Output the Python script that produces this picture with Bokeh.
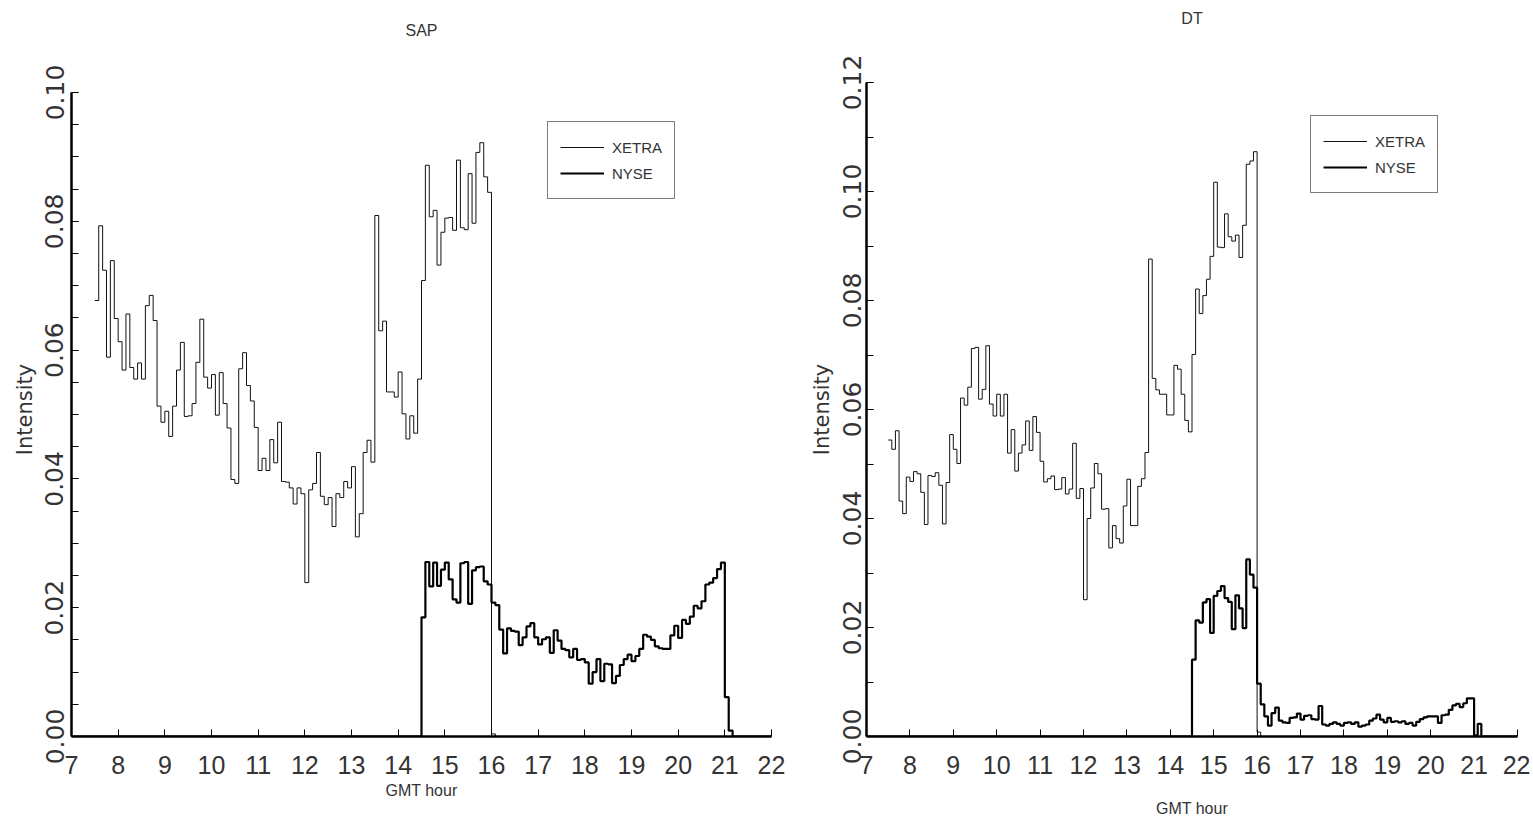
from bokeh.plotting import figure
from bokeh.models import Range1d, FixedTicker, PrintfTickFormatter, Legend, LegendItem, LinearAxis
from bokeh.layouts import row
from bokeh.embed import file_html
from bokeh.resources import INLINE

# ------------------------------------------------------------------ data
HOUR_TICKS = list(range(7, 23))
X_START, X_END = 7, 22
BIN = 1 / 12            # 5-minute bins, in hours
XETRA_OPEN = 7.5        # GMT
NYSE_OPEN = 14.5        # GMT

sap_xetra = [
    0.0677, 0.0793, 0.0724, 0.0589, 0.0739, 0.0649, 0.0613, 0.0569, 0.0656, 0.0573,
    0.0555, 0.0580, 0.0555, 0.0669, 0.0685, 0.0646, 0.0513, 0.0488, 0.0505, 0.0466,
    0.0513, 0.0569, 0.0612, 0.0497, 0.0498, 0.0517, 0.0581, 0.0648, 0.0558, 0.0541,
    0.0562, 0.0499, 0.0565, 0.0517, 0.0479, 0.0399, 0.0393, 0.0571, 0.0596, 0.0545,
    0.0521, 0.0480, 0.0413, 0.0432, 0.0413, 0.0461, 0.0425, 0.0488, 0.0396, 0.0395,
    0.0386, 0.0361, 0.0386, 0.0377, 0.0239, 0.0383, 0.0393, 0.0441, 0.0373, 0.0360,
    0.0371, 0.0326, 0.0377, 0.0371, 0.0396, 0.0386, 0.0419, 0.0310, 0.0346, 0.0441,
    0.0460, 0.0426, 0.0809, 0.0630, 0.0645, 0.0535, 0.0535, 0.0527, 0.0566, 0.0501,
    0.0462, 0.0498, 0.0471, 0.0555, 0.0708, 0.0887, 0.0807, 0.0817, 0.0732, 0.0783,
    0.0805, 0.0806, 0.0786, 0.0895, 0.0790, 0.0787, 0.0874, 0.0797, 0.0907, 0.0922,
    0.0869, 0.0845,
]
sap_xetra_after = [0.0004]

sap_nyse = [
    0.0185, 0.0271, 0.0233, 0.0270, 0.0234, 0.0259, 0.0270, 0.0244, 0.0213, 0.0208,
    0.0269, 0.0271, 0.0206, 0.0258, 0.0263, 0.0264, 0.0241, 0.0236,
    0.0208, 0.0204, 0.0166, 0.0129, 0.0168, 0.0164, 0.0163, 0.0142, 0.0154, 0.0171,
    0.0176, 0.0154, 0.0143, 0.0151, 0.0154, 0.0130, 0.0165, 0.0149, 0.0136, 0.0134,
    0.0123, 0.0136, 0.0119, 0.0120, 0.0115, 0.0082, 0.0100, 0.0120, 0.0086, 0.0113,
    0.0112, 0.0083, 0.0094, 0.0111, 0.0120, 0.0127, 0.0117, 0.0125, 0.0136, 0.0158,
    0.0155, 0.0150, 0.0140, 0.0137, 0.0136, 0.0136, 0.0157, 0.0172, 0.0153, 0.0181,
    0.0175, 0.0186, 0.0203, 0.0199, 0.0210, 0.0236, 0.0239, 0.0246, 0.0260, 0.0270,
]
sap_nyse_after = [0.0061, 0.0009]

dt_xetra = [
    0.0544, 0.0527, 0.0561, 0.0432, 0.0409, 0.0476, 0.0468, 0.0486, 0.0482, 0.0448,
    0.0389, 0.0479, 0.0477, 0.0484, 0.0461, 0.0390, 0.0466, 0.0554, 0.0527, 0.0501,
    0.0621, 0.0608, 0.0641, 0.0712, 0.0714, 0.0619, 0.0637, 0.0717, 0.0610, 0.0588,
    0.0628, 0.0588, 0.0628, 0.0520, 0.0563, 0.0487, 0.0520, 0.0535, 0.0579, 0.0525,
    0.0587, 0.0558, 0.0505, 0.0467, 0.0473, 0.0478, 0.0453, 0.0454, 0.0475, 0.0445,
    0.0454, 0.0538, 0.0437, 0.0455, 0.0251, 0.0400, 0.0456, 0.0501, 0.0482, 0.0417,
    0.0418, 0.0346, 0.0387, 0.0363, 0.0355, 0.0423, 0.0472, 0.0387, 0.0387, 0.0459,
    0.0473, 0.0521, 0.0876, 0.0657, 0.0636, 0.0628, 0.0628, 0.0590, 0.0590, 0.0681,
    0.0674, 0.0628, 0.0580, 0.0559, 0.0701, 0.0821, 0.0776, 0.0809, 0.0839, 0.0881,
    0.1017, 0.0898, 0.0897, 0.0959, 0.0917, 0.0909, 0.0920, 0.0879, 0.0938, 0.1050,
    0.1056, 0.1073,
]
dt_xetra_after = [0.0008]

dt_nyse = [
    0.0141, 0.0213, 0.0209, 0.0246, 0.0252, 0.0190, 0.0258, 0.0267, 0.0276, 0.0254,
    0.0247, 0.0197, 0.0259, 0.0235, 0.0199, 0.0325, 0.0297, 0.0273,
    0.0097, 0.0059, 0.0037, 0.0020, 0.0043, 0.0053, 0.0029, 0.0026, 0.0025, 0.0034,
    0.0035, 0.0042, 0.0031, 0.0038, 0.0039, 0.0032, 0.0031, 0.0056, 0.0022, 0.0020,
    0.0023, 0.0026, 0.0023, 0.0020, 0.0025, 0.0026, 0.0023, 0.0026, 0.0018, 0.0020,
    0.0022, 0.0029, 0.0033, 0.0040, 0.0031, 0.0026, 0.0034, 0.0027, 0.0028, 0.0026,
    0.0028, 0.0023, 0.0025, 0.0020, 0.0027, 0.0032, 0.0035, 0.0037, 0.0037, 0.0037,
    0.0025, 0.0039, 0.0040, 0.0049, 0.0057, 0.0060, 0.0054, 0.0061, 0.0070, 0.0070,
]
dt_nyse_after = [0.0002, 0.0023]

sap_ymax = 0.10
sap_yticks = [0.0, 0.02, 0.04, 0.06, 0.08, 0.10]
sap_yminor = [i * 0.005 for i in range(21)]
dt_ymax = 0.12
dt_yticks = [0.0, 0.02, 0.04, 0.06, 0.08, 0.10, 0.12]
dt_yminor = [i * 0.01 for i in range(13)]

# ------------------------------------------------------------------ style
NARROW = "'Liberation Sans', sans-serif"
WIDE = "'DejaVu Sans', sans-serif"
TXT = "#333333"

FRAME_H = 654        # common frame height (pixels) of the two panels
TOP = 82
BOTTOM = 87
HEIGHT = TOP + FRAME_H + BOTTOM


def steps(open_h, values, after, lead=False):
    vals = list(values) + list(after)
    xs = [open_h + i * BIN for i in range(len(vals))]
    xs += [open_h + len(vals) * BIN, X_END]
    ys = vals + [0.0, 0.0]
    if lead:
        xs = [X_START] + xs
        ys = [0.0] + ys
    return xs, ys


def panel(title, xetra, xetra_after, nyse, nyse_after, ymax, axis_px, yticks, yminor,
          width, bl, br, title_bounds, title_standoff, xl_standoff, yt_standoff,
          yl_standoff, legend_loc):
    # axis_px: pixel length of the y axis from 0 to ymax
    ytop = ymax * FRAME_H / axis_px
    p = figure(width=width, height=HEIGHT,
               x_range=Range1d(X_START, X_END), y_range=Range1d(0, ytop),
               output_backend="svg", toolbar_location=None,
               min_border_left=bl, min_border_right=br,
               min_border_top=TOP, min_border_bottom=BOTTOM)
    p.outline_line_color = None
    p.grid.visible = False
    p.background_fill_color = "white"

    xa = p.below[0]
    ya = p.left[0]

    # panel title, drawn as the label of a bare axis above the frame
    ta = LinearAxis(ticker=FixedTicker(ticks=[]), bounds=title_bounds,
                    axis_label=title, axis_label_standoff=title_standoff,
                    axis_label_text_font=NARROW, axis_label_text_font_size="16px",
                    axis_label_text_font_style="normal", axis_label_text_color=TXT,
                    axis_line_color=None, major_tick_line_color=None,
                    minor_tick_line_color=None, major_label_text_font_size="0px")
    p.add_layout(ta, "above")

    xs, ys = steps(XETRA_OPEN, xetra, xetra_after)
    r1 = p.step(xs, ys, mode="after", line_color="#111111", line_width=1)
    xs, ys = steps(NYSE_OPEN, nyse, nyse_after, lead=True)
    r2 = p.step(xs, ys, mode="after", line_color="black", line_width=2.2)

    xa.ticker = FixedTicker(ticks=HOUR_TICKS)
    xa.axis_label = "GMT hour"
    xa.axis_label_standoff = xl_standoff
    xa.axis_label_text_font = NARROW
    xa.axis_label_text_font_size = "16px"
    xa.axis_label_text_font_style = "normal"
    xa.axis_label_text_color = TXT
    xa.major_label_text_font = NARROW
    xa.major_label_text_font_size = "25px"
    xa.major_label_text_color = TXT
    xa.major_label_standoff = 19

    ya.ticker = FixedTicker(ticks=yticks, minor_ticks=yminor)
    ya.formatter = PrintfTickFormatter(format="%.2f")
    ya.bounds = (0, ymax)
    ya.major_label_orientation = "vertical"
    ya.axis_label = "Intensity"
    ya.axis_label_standoff = yl_standoff
    ya.axis_label_text_font = WIDE
    ya.axis_label_text_font_size = "21px"
    ya.axis_label_text_font_style = "normal"
    ya.axis_label_text_color = TXT
    ya.major_label_text_font = WIDE
    ya.major_label_text_font_size = "25px"
    ya.major_label_text_color = TXT
    ya.major_label_standoff = yt_standoff

    for ax in (xa, ya):
        ax.axis_line_width = 2.5
        ax.axis_line_color = "black"
        ax.major_tick_in = 7
        ax.major_tick_out = 0
        ax.minor_tick_in = 7
        ax.minor_tick_out = 0
        ax.major_tick_line_color = "black"
        ax.minor_tick_line_color = "black"
        ax.major_tick_line_width = 1
        ax.minor_tick_line_width = 1
    xa.minor_tick_line_color = None

    legend = Legend(items=[LegendItem(label="XETRA", renderers=[r1]),
                           LegendItem(label="NYSE", renderers=[r2])],
                    location=legend_loc, margin=0, padding=12, spacing=0,
                    glyph_height=26, label_height=26, glyph_width=44,
                    label_standoff=8, label_text_font=NARROW,
                    label_text_font_size="15px", label_text_color=TXT,
                    border_line_color="black", border_line_width=1,
                    background_fill_color="white", background_fill_alpha=1)
    p.add_layout(legend)
    return p


p1 = panel("SAP", sap_xetra, sap_xetra_after, sap_nyse, sap_nyse_after,
           sap_ymax, 644, sap_yticks, sap_yminor,
           width=793, bl=71, br=22, title_bounds=(7, 21.44), title_standoff=44,
           xl_standoff=5, yt_standoff=8, yl_standoff=6, legend_loc=(476, 537))
p2 = panel("DT", dt_xetra, dt_xetra_after, dt_nyse, dt_nyse_after,
           dt_ymax, 654, dt_yticks, dt_yminor,
           width=737, bl=73, br=13, title_bounds=(7.4, 22), title_standoff=56,
           xl_standoff=23, yt_standoff=6, yl_standoff=6, legend_loc=(444, 543))

layout = row(p1, p2)
open("out.html", "w").write(file_html(layout, INLINE))
